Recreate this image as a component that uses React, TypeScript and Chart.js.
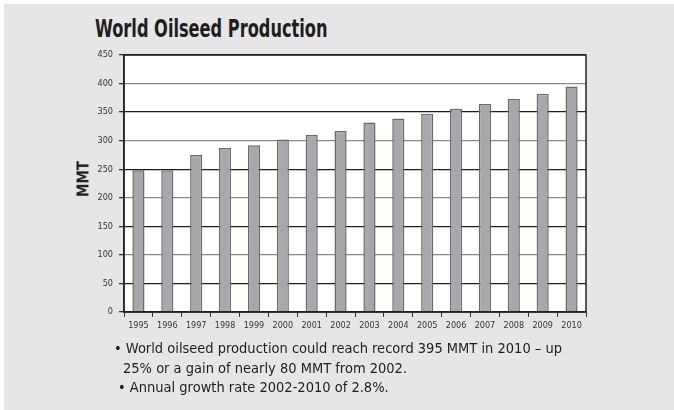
import { useEffect, useRef } from "react";
import { Chart, registerables } from "chart.js";

Chart.register(...registerables);

// Marketing years shown on the category axis
const years = [
  "1995", "1996", "1997", "1998", "1999", "2000", "2001", "2002",
  "2003", "2004", "2005", "2006", "2007", "2008", "2009", "2010",
];

// World oilseed production, million metric tons
const production = [
  248, 248, 275, 287, 292, 302, 310, 317,
  332, 339, 347, 356, 364, 373, 382, 395,
];

const yMin = 0;
const yMax = 450;
const yStep = 50;

const chartTitle = "World Oilseed Production";
const axisTitle = "MMT";
const noteLines = [
  "World oilseed production could reach record 395 MMT in 2010 \u2013 up",
  "25% or a gain of nearly 80 MMT from 2002.",
  "Annual growth rate 2002-2010 of 2.8%.",
];

const W = 674;
const H = 410;
const PAD_LEFT = 96;
const PAD_TOP = 55;
const PAD_RIGHT = 88;
const PAD_BOTTOM = 78;

const tickFont = { family: "'DejaVu Sans Condensed', 'DejaVu Sans', sans-serif", size: 9 };
const textFont = "'DejaVu Sans Condensed', 'DejaVu Sans', sans-serif";

// White plot background plus a full frame around the plot area
const plotFrame = {
  id: "plotFrame",
  beforeDraw(chart: any) {
    const { ctx, chartArea: a } = chart;
    ctx.save();
    ctx.fillStyle = "#ffffff";
    ctx.fillRect(a.left, a.top, a.right - a.left, a.bottom - a.top);
    ctx.restore();
  },
  afterDraw(chart: any) {
    const { ctx, chartArea: a } = chart;
    ctx.save();
    ctx.strokeStyle = "#222222";
    ctx.lineWidth = 1.5;
    ctx.strokeRect(a.left, a.top, a.right - a.left, a.bottom - a.top);
    ctx.restore();
  },
};

function OilseedChart() {
  const ref = useRef<HTMLCanvasElement | null>(null);

  useEffect(() => {
    if (!ref.current) return;
    const chart = new Chart(ref.current, {
      type: "bar",
      data: {
        labels: years,
        datasets: [
          {
            data: production,
            backgroundColor: "#a7a8ab",
            borderColor: "#6a6a6c",
            borderWidth: 1.5,
            categoryPercentage: 1,
            barPercentage: 0.42,
          },
        ],
      },
      options: {
        responsive: false,
        animation: false,
        devicePixelRatio: 1,
        layout: {
          padding: { left: PAD_LEFT, top: PAD_TOP, right: PAD_RIGHT, bottom: PAD_BOTTOM },
        },
        plugins: {
          legend: { display: false },
          tooltip: { enabled: false },
        },
        scales: {
          x: {
            grid: {
              drawOnChartArea: false,
              offset: true,
              tickLength: 5,
              tickColor: "#333333",
            },
            border: { display: true, color: "#222222", width: 1.5 },
            ticks: {
              font: tickFont,
              color: "#333333",
              maxRotation: 0,
              autoSkip: false,
              padding: 3,
            },
            afterFit(scale: any) {
              scale.height = 20;
            },
          },
          y: {
            min: yMin,
            max: yMax,
            ticks: {
              stepSize: yStep,
              font: tickFont,
              color: "#333333",
              padding: 6,
            },
            grid: {
              color: (ctx: any) =>
                ctx.tick && ctx.tick.value % 100 === 0 ? "#8a8a8a" : "#1e1e1e",
              lineWidth: 1.3,
              tickLength: 5,
              tickColor: "#333333",
            },
            border: { display: true, color: "#222222", width: 1.5 },
            afterFit(scale: any) {
              scale.width = 28;
            },
          },
        },
      },
      plugins: [plotFrame],
    });
    return () => chart.destroy();
  }, []);

  return (
    <canvas
      ref={ref}
      width={W}
      height={H}
      style={{ position: "absolute", left: 0, top: 0, width: W, height: H }}
    />
  );
}

export default function App() {
  return (
    <div
      style={{
        position: "fixed",
        left: 0,
        top: 0,
        width: W,
        height: H,
        background: "#ffffff",
        overflow: "hidden",
      }}
    >
      <div
        style={{
          position: "absolute",
          left: 4,
          top: 4,
          right: 0,
          bottom: 0,
          background: "#e6e6e6",
        }}
      />
      <div
        style={{
          position: "absolute",
          left: 95,
          top: 15,
          fontFamily: textFont,
          fontWeight: "bold",
          fontSize: 24,
          lineHeight: "28px",
          color: "#1e1e1e",
          whiteSpace: "nowrap",
          transform: "scaleX(0.75)",
          transformOrigin: "left top",
        }}
      >
        {chartTitle}
      </div>
      <OilseedChart />
      <div
        style={{
          position: "absolute",
          left: 84,
          top: 179,
          transform: "translate(-50%, -50%) rotate(-90deg)",
          fontFamily: textFont,
          fontWeight: "bold",
          fontSize: 15,
          lineHeight: "15px",
          color: "#1e1e1e",
          whiteSpace: "nowrap",
        }}
      >
        {axisTitle}
      </div>
      <div
        style={{
          position: "absolute",
          left: 114,
          top: 339,
          fontFamily: textFont,
          fontSize: 14.5,
          lineHeight: "19.5px",
          color: "#1e1e1e",
          whiteSpace: "nowrap",
        }}
      >
        <div>{"\u2022 " + noteLines[0]}</div>
        <div style={{ paddingLeft: 9 }}>{noteLines[1]}</div>
        <div style={{ paddingLeft: 4 }}>{"\u2022 " + noteLines[2]}</div>
      </div>
    </div>
  );
}
